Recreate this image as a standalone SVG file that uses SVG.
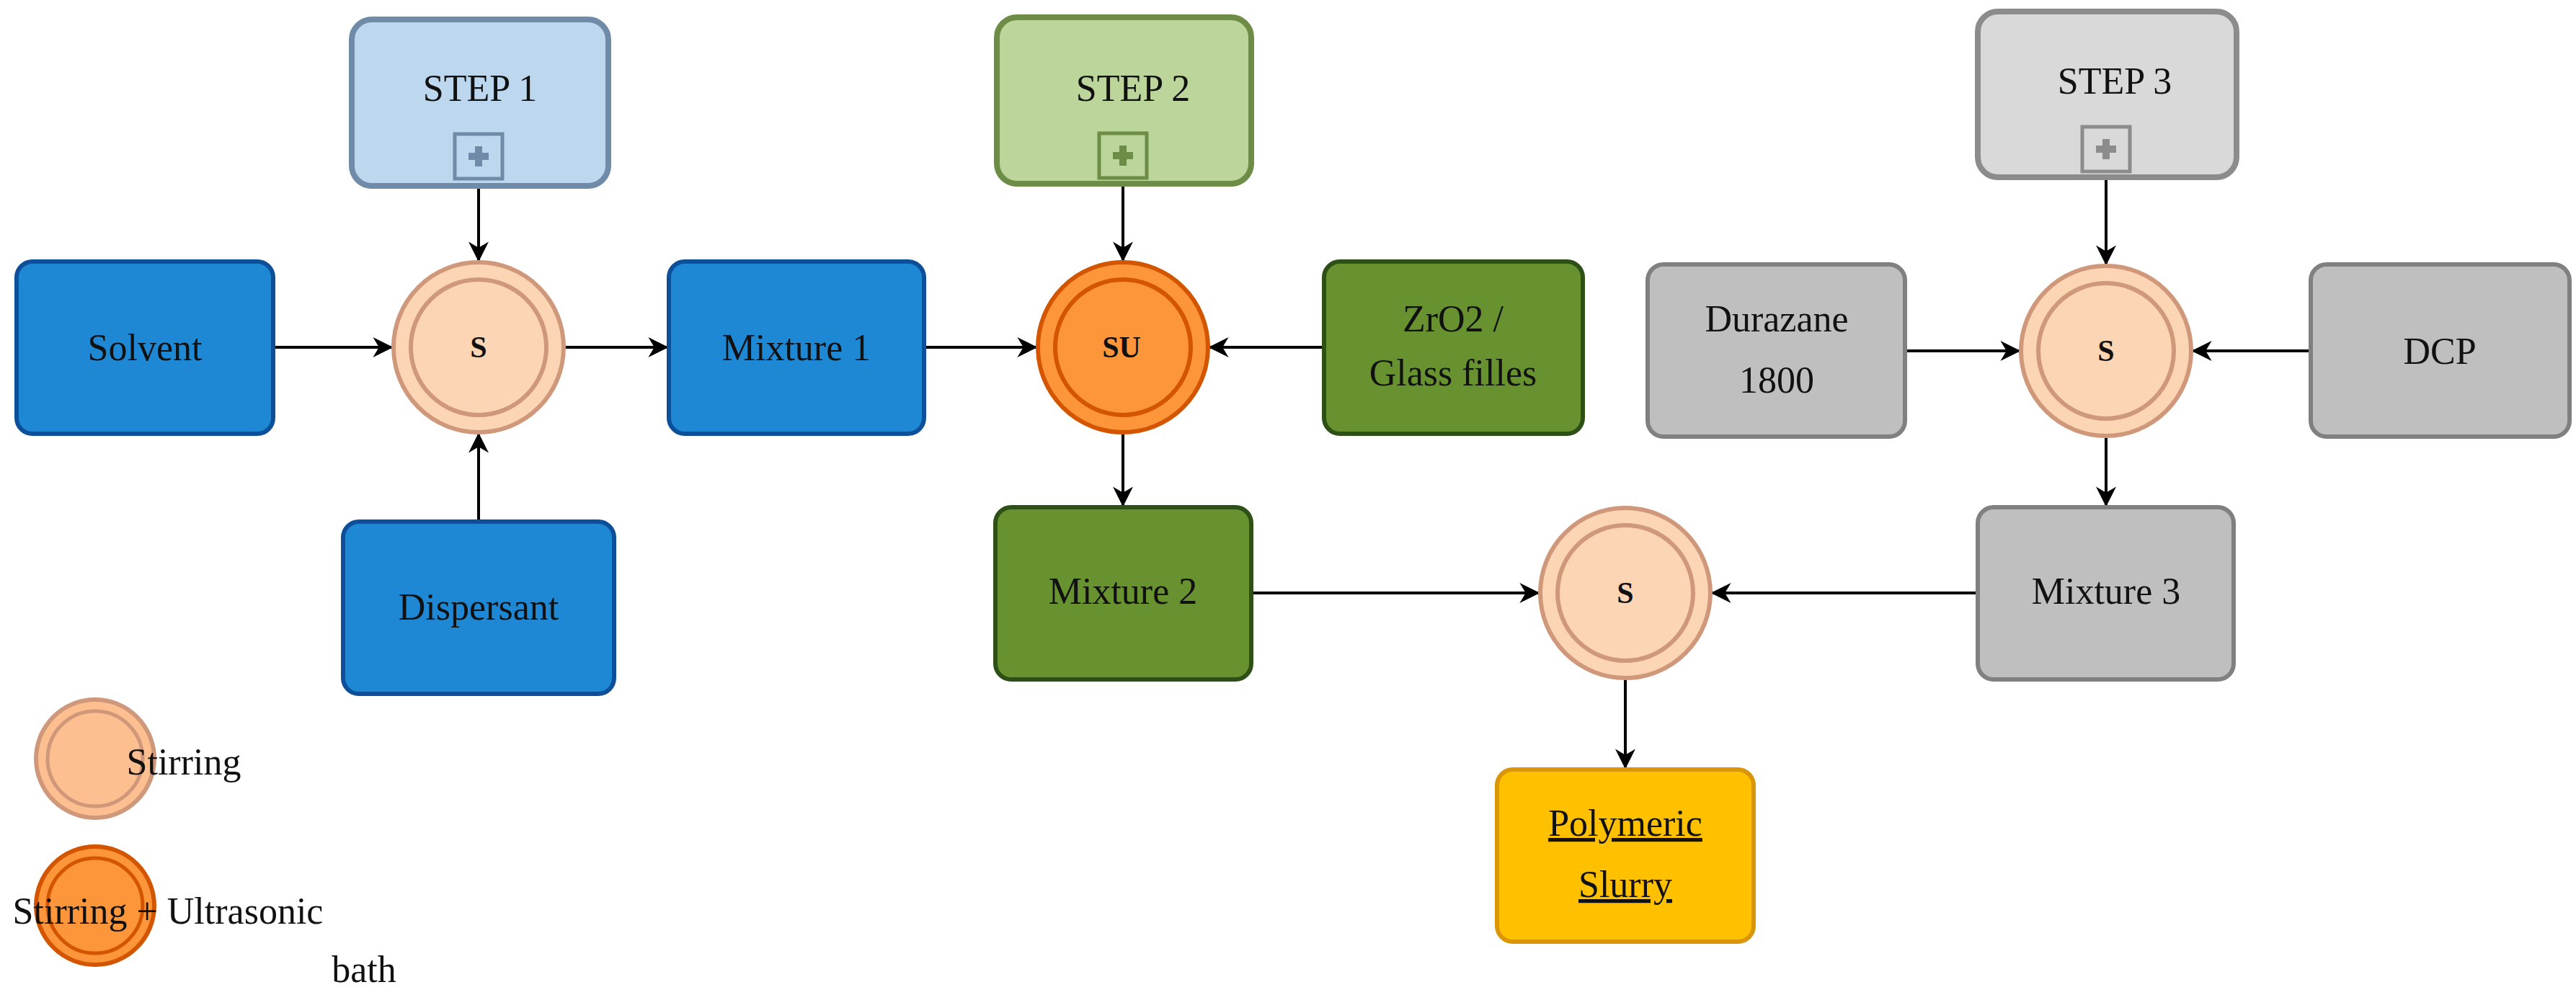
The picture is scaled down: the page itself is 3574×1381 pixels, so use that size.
<svg xmlns="http://www.w3.org/2000/svg" width="3574" height="1381" viewBox="0 0 3574 1381">
<style>
text{font-family:"Liberation Serif","DejaVu Serif",serif;font-size:52px;fill:#111;text-anchor:middle}
.b{fill:#1f88d4;stroke:#0d4f99;stroke-width:6}
.g{fill:#67922f;stroke:#2d5016;stroke-width:6}
.gr{fill:#bfbfbf;stroke:#808080;stroke-width:6}
.s1{fill:#bdd7ee;stroke:#6f8ba8;stroke-width:8}
.s2{fill:#bcd59b;stroke:#6d8d46;stroke-width:8}
.s3{fill:#d9d9d9;stroke:#8c8c8c;stroke-width:8}
.y{fill:#ffc000;stroke:#d9960a;stroke-width:6}
.c{fill:#fcd5b5;stroke:#d0987a;stroke-width:6}
.cu{fill:#fd963a;stroke:#d45500;stroke-width:6}
.ci{fill:none;stroke-width:6}
.lbl{font-weight:bold;font-size:42px}
.conn line{stroke:#000;stroke-width:4;marker-end:url(#ar)}
</style>
<defs>
<marker id="ar" viewBox="0 0 20 20" refX="19" refY="10" markerWidth="7" markerHeight="7" markerUnits="strokeWidth" orient="auto"><path d="M0,0 L20,10 L0,20 L6,10 Z" fill="#000"/></marker>
<g id="plus"><rect x="-33" y="-31" width="66" height="62" fill="none" stroke-width="5"/><path d="M-14,0H14M0,-14V14" stroke-width="10"/></g>
</defs>
<g class="conn">
<line x1="664" y1="248" x2="664" y2="362"/>
<line x1="379" y1="482" x2="544" y2="482"/>
<line x1="664" y1="724" x2="664" y2="602"/>
<line x1="782" y1="482" x2="926" y2="482"/>
<line x1="1282" y1="482" x2="1438" y2="482"/>
<line x1="1558" y1="246" x2="1558" y2="362"/>
<line x1="1837" y1="482" x2="1678" y2="482"/>
<line x1="1558" y1="600" x2="1558" y2="702"/>
<line x1="2643" y1="487" x2="2802" y2="487"/>
<line x1="2922" y1="246" x2="2922" y2="367"/>
<line x1="3206" y1="487" x2="3042" y2="487"/>
<line x1="2922" y1="605" x2="2922" y2="702"/>
<line x1="1736" y1="823" x2="2135" y2="823"/>
<line x1="2744" y1="823" x2="2375" y2="823"/>
<line x1="2255" y1="941" x2="2255" y2="1066"/>
</g>
<g id="step1"><rect class="s1" x="488" y="27" width="356" height="231" rx="28"/><text x="666" y="140">STEP 1</text><use href="#plus" x="664" y="217" stroke="#6f8ba8" fill="none"/></g>
<g id="step2"><rect class="s2" x="1383" y="24" width="353" height="231" rx="28"/><text x="1572" y="140">STEP 2</text><use href="#plus" x="1558" y="216" stroke="#6d8d46"/></g>
<g id="step3"><rect class="s3" x="2744" y="16" width="359" height="230" rx="28"/><text x="2934" y="130">STEP 3</text><use href="#plus" x="2922" y="207" stroke="#8c8c8c"/></g>
<g id="solvent"><rect class="b" x="23" y="363" width="356" height="239" rx="22"/><text x="201" y="500">Solvent</text></g>
<g id="s1"><circle class="c" cx="664" cy="482" r="118"/><circle class="ci" stroke="#d0987a" cx="664" cy="482" r="94"/><text class="lbl" x="664" y="496">S</text></g>
<g id="mixture1"><rect class="b" x="928" y="363" width="354" height="239" rx="22"/><text x="1105" y="500">Mixture 1</text></g>
<g id="dispersant"><rect class="b" x="476" y="724" width="376" height="239" rx="22"/><text x="664" y="860">Dispersant</text></g>
<g id="su"><circle class="cu" cx="1558" cy="482" r="118"/><circle class="ci" stroke="#d45500" cx="1558" cy="482" r="94"/><text class="lbl" x="1556" y="496">SU</text></g>
<g id="zro2"><rect class="g" x="1837" y="363" width="359" height="239" rx="22"/><text x="2016" y="460">ZrO2 /</text><text x="2016" y="535">Glass filles</text></g>
<g id="mixture2"><rect class="g" x="1381" y="704" width="355" height="239" rx="22"/><text x="1558" y="838">Mixture 2</text></g>
<g id="durazane"><rect class="gr" x="2286" y="367" width="357" height="239" rx="22"/><text x="2465" y="460">Durazane</text><text x="2465" y="545">1800</text></g>
<g id="s3c"><circle class="c" cx="2922" cy="487" r="118"/><circle class="ci" stroke="#d0987a" cx="2922" cy="487" r="94"/><text class="lbl" x="2922" y="501">S</text></g>
<g id="dcp"><rect class="gr" x="3206" y="367" width="359" height="239" rx="22"/><text x="3385" y="505">DCP</text></g>
<g id="mixture3"><rect class="gr" x="2744" y="704" width="355" height="239" rx="22"/><text x="2922" y="838">Mixture 3</text></g>
<g id="s4"><circle class="c" cx="2255" cy="823" r="118"/><circle class="ci" stroke="#d0987a" cx="2255" cy="823" r="94"/><text class="lbl" x="2255" y="837">S</text></g>
<g id="slurry"><rect class="y" x="2077" y="1068" width="356" height="239" rx="22"/><text x="2255" y="1160" text-decoration="underline">Polymeric</text><text x="2255" y="1245" text-decoration="underline">Slurry</text></g>
<g id="legend">
<circle cx="132" cy="1053" r="82" fill="#fdbf8f" stroke="#d0987a" stroke-width="6"/><circle cx="132" cy="1053" r="66" fill="none" stroke="#d0987a" stroke-width="5"/>
<text x="255" y="1075" text-anchor="start">Stirring</text>
<circle cx="132" cy="1257" r="82" fill="#fd963a" stroke="#d45500" stroke-width="6"/><circle cx="132" cy="1257" r="66" fill="none" stroke="#d45500" stroke-width="5"/>
<text x="233" y="1282" text-anchor="start">Stirring + Ultrasonic</text>
<text x="505" y="1363">bath</text>
</g>
</svg>
